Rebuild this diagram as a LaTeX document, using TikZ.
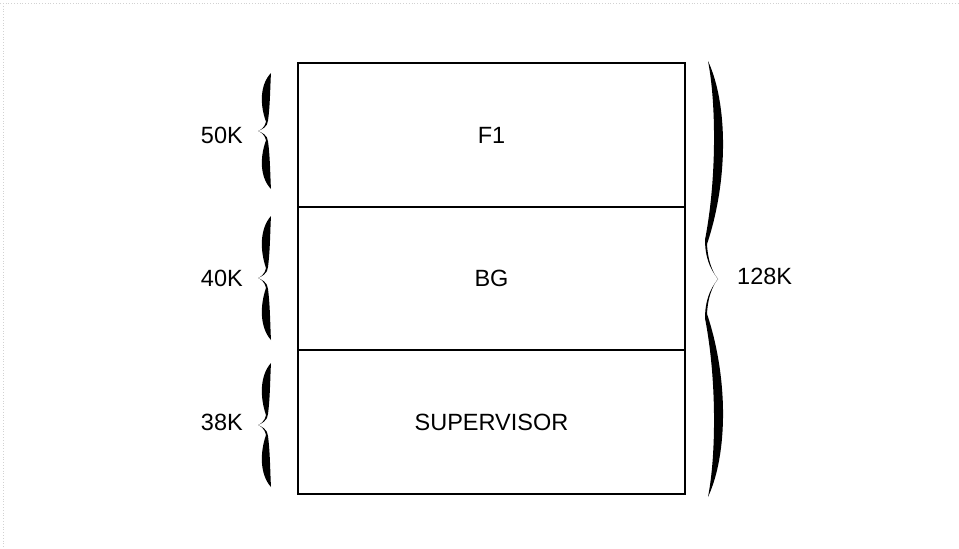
\documentclass[tikz,border=0pt]{standalone}
\usepackage{fontspec}
\setmainfont{Liberation Sans}
% filled calligraphic brace: tip (#1,#2), half height #3, direction #4 (+1 body right, -1 body left),
% end offset #5, outer control #6, inner control #7, neck offset #8
\newcommand\bracefill[8]{%
  \begin{scope}[shift={(#1,#2)},xscale=#4]
    \foreach \s in {1,-1}{%
      \begin{scope}[yscale=\s]
        \fill (#5,-#3) .. controls (#6,-0.8*#3) and (#6,-0.45*#3) .. (#8-1,-0.16*#3)
          .. controls (#8-2,-0.06*#3) and (2,-0.01*#3) .. (0,0)
          .. controls (3,-0.02*#3) and (#8+1,-0.07*#3) .. (#8+1,-0.18*#3)
          .. controls (#7,-0.45*#3) and (#7,-0.8*#3) .. (#5,-#3) -- cycle;
      \end{scope}}
  \end{scope}}
\begin{document}
\begin{tikzpicture}[x=1pt,y=-1pt,
  lbl/.style={font=\fontsize{23.5}{28}\selectfont, inner sep=0pt},
  section/.style={draw, line width=2.2pt, minimum width=387pt, outer sep=0pt, inner sep=0pt,
    anchor=north west, font=\fontsize{23.5}{28}\selectfont}]
\useasboundingbox (0,0) rectangle (959,549);
\fill[white] (0,0) rectangle (959,549);
% faint scan edge
\draw[gray!35, dotted, line width=0.8pt] (0,3) -- (959,3);
\draw[gray!35, dotted, line width=0.8pt] (3,3) -- (3,549);
% memory sections
\node[section, minimum height=144pt] (f1) at (298,63) {F1};
\node[section, minimum height=143pt] (bg) at (298,207) {BG};
\node[section, minimum height=144pt] (sup) at (298,350) {SUPERVISOR};
% braces
\bracefill{258}{131}{58}{1}{13}{1.8}{12.2}{9}
\bracefill{258}{278}{62}{1}{13}{1.8}{12.2}{9}
\bracefill{258}{425}{62}{1}{13}{1.8}{12.2}{9}
\bracefill{718}{279}{218}{-1}{10}{-10.2}{1.5}{12}
% labels
\node[lbl, anchor=east] (l50) at (243,135) {50K};
\node[lbl, anchor=east] (l40) at (243,278) {40K};
\node[lbl, anchor=east] (l38) at (243,422) {38K};
\node[lbl, anchor=west] (l128) at (737,276) {128K};
\end{tikzpicture}
\end{document}
